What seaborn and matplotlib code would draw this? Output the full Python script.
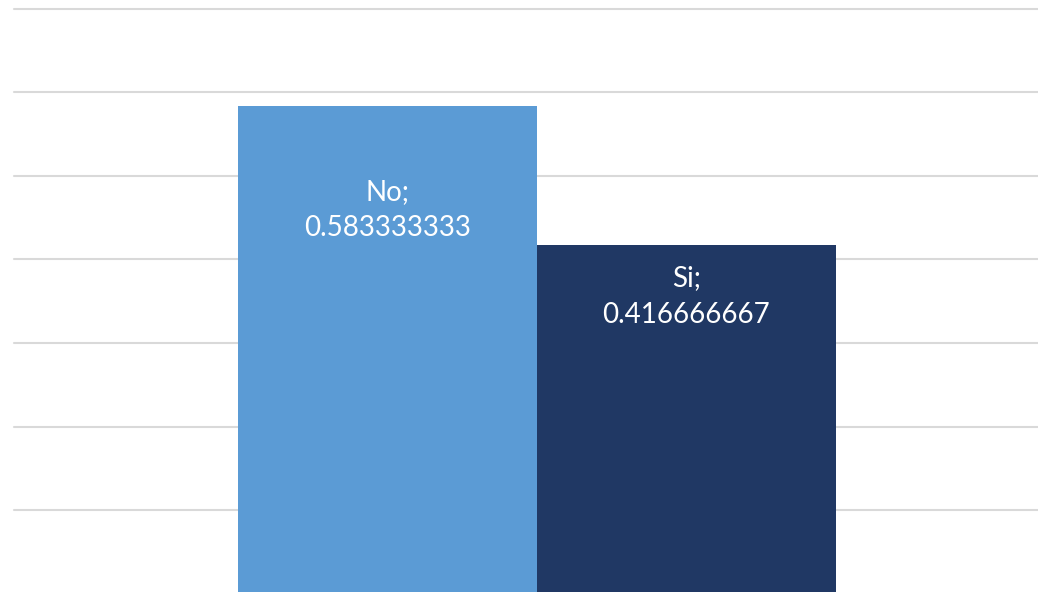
import matplotlib
matplotlib.use("Agg")
import matplotlib.pyplot as plt
import seaborn as sns
import pandas as pd

# 数据
categories = ["No", "Si"]
values = [0.583333333, 0.416666667]
bar_colors = ["#5B9BD5", "#203864"]
# 标签离柱顶的距离（布局用）
label_drop = [0.124, 0.061]

sns.set_style("white")
plt.rcParams['font.family'] = ['Lato', 'DejaVu Sans']

df = pd.DataFrame({"cat": categories, "val": values})

fig = plt.figure(figsize=(10.38, 5.92), dpi=100)
ax = fig.add_axes([14 / 1038, -2 / 592, 1024 / 1038, 585.5 / 592])

sns.barplot(data=df, x="cat", y="val", hue="cat", palette=bar_colors,
            width=1.0, saturation=1, legend=False, linewidth=0, ax=ax)

# 数据标签
for i, (c, v) in enumerate(zip(categories, values)):
    ax.text(i, v - label_drop[i], f"{c};\n{v:.9f}", ha="center", va="center",
            color="white", fontsize=20, linespacing=1.5)

ax.set_ylim(0, 0.7)
ax.set_xlim(-1.249, 2.176)
ax.set_yticks([0.1 * k for k in range(1, 8)])
ax.yaxis.grid(True, color="#d9d9d9", linewidth=1.5)
for gl in ax.get_ygridlines():
    gl.set_clip_on(False)
ax.set_axisbelow(True)
ax.set_xticks([])
ax.tick_params(left=False, labelleft=False)
ax.set_xlabel("")
ax.set_ylabel("")
sns.despine(ax=ax, left=True, bottom=True)

plt.savefig("out.png", dpi=100)
